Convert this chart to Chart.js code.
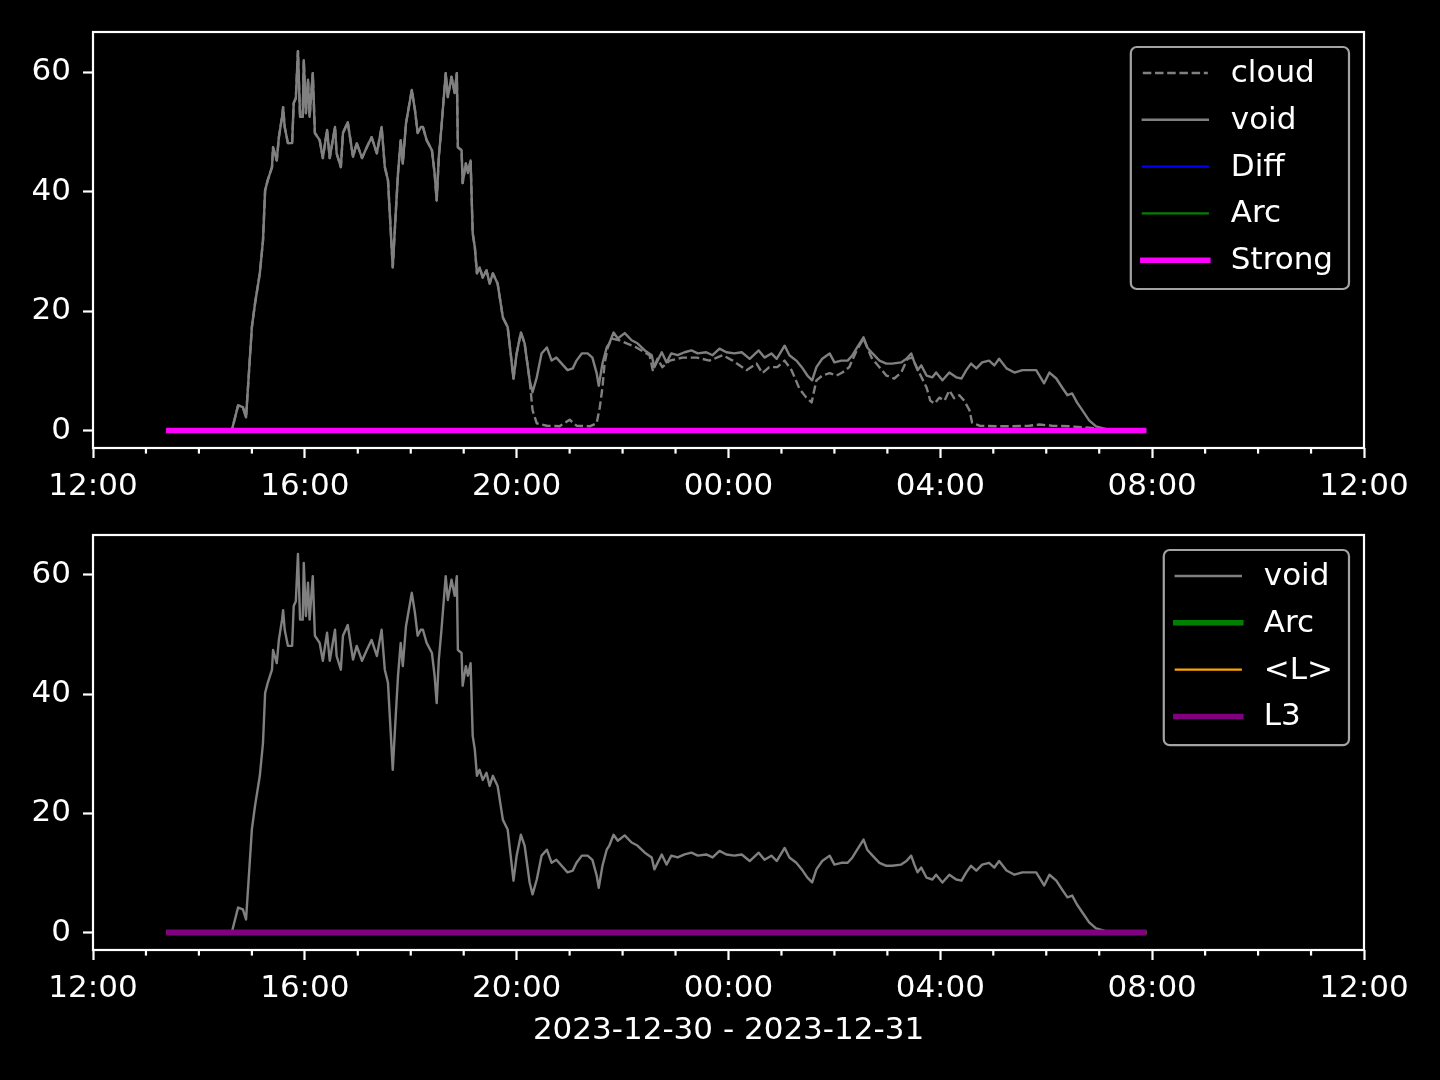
<!DOCTYPE html>
<html>
<head>
<meta charset="utf-8">
<script src="https://cdn.jsdelivr.net/npm/chart.js@4.4.0/dist/chart.umd.min.js"></script>
<style>
  html, body { margin: 0; padding: 0; background: #000; }
  #wrap { position: relative; width: 1440px; height: 1080px; background: #000; overflow: hidden; }
  canvas { position: absolute; left: 0; }
  #topChart { top: 0; }
  #bottomChart { top: 500px; }
</style>
</head>
<body>
<div id="wrap">
  <canvas id="topChart" width="1440" height="520"></canvas>
  <canvas id="bottomChart" width="1440" height="580"></canvas>
</div>
<script>
// hours counted from 2023-12-30 00:00 (24+ = next day)
const voidHours = [
  13.38, 14.62, 14.74, 14.83, 14.89, 15.00, 15.06, 15.15, 15.21, 15.25, 15.30, 15.38, 15.40, 15.47,
  15.51, 15.57, 15.59, 15.62, 15.68, 15.76, 15.79, 15.83, 15.87, 15.91, 15.96, 15.98, 16.02, 16.06,
  16.09, 16.15, 16.19, 16.28, 16.34, 16.42, 16.47, 16.57, 16.60, 16.68, 16.72, 16.81, 16.91, 16.98,
  17.08, 17.17, 17.26, 17.36, 17.45, 17.51, 17.57, 17.66, 17.72, 17.76, 17.81, 17.85, 17.91, 18.02,
  18.08, 18.13, 18.19, 18.23, 18.30, 18.40, 18.45, 18.49, 18.53, 18.58, 18.66, 18.70, 18.77, 18.83,
  18.87, 18.89, 18.96, 18.98, 19.04, 19.08, 19.13, 19.17, 19.21, 19.25, 19.30, 19.36, 19.43, 19.49,
  19.55, 19.64, 19.74, 19.83, 19.94, 20.00, 20.08, 20.15, 20.245, 20.30, 20.38, 20.47, 20.57, 20.66,
  20.75, 20.85, 20.96, 21.06, 21.13, 21.23, 21.34, 21.43, 21.51, 21.55, 21.62, 21.70, 21.75, 21.83,
  21.91, 22.04, 22.17, 22.28, 22.42, 22.55, 22.60, 22.74, 22.83, 22.92, 23.04, 23.17, 23.30, 23.42,
  23.58, 23.70, 23.83, 23.96, 24.11, 24.25, 24.40, 24.57, 24.68, 24.81, 24.91, 25.06, 25.15, 25.28,
  25.40, 25.49, 25.58, 25.66, 25.77, 25.91, 26.00, 26.13, 26.25, 26.34, 26.43, 26.55, 26.62, 26.72,
  26.85, 26.98, 27.09, 27.26, 27.36, 27.45, 27.51, 27.57, 27.64, 27.74, 27.85, 27.92, 28.04, 28.17,
  28.30, 28.40, 28.49, 28.58, 28.68, 28.79, 28.92, 29.02, 29.11, 29.25, 29.40, 29.55, 29.68, 29.81,
  29.96, 30.06, 30.19, 30.30, 30.40, 30.49, 30.58, 30.68, 30.81, 30.94, 31.06, 31.19, 31.89
];
const voidValues = [
  0, 0, 4.2, 3.9, 2.2, 17.3, 21.3, 26.3, 31.8, 40.2, 41.9, 44.1, 47.4, 45.2,
  49.1, 52.5, 54.1, 50.8, 48.1, 48.1, 54.8, 55.6, 63.5, 52.5, 52.5, 62.0, 53.1, 58.7,
  52.5, 59.8, 49.8, 48.6, 45.6, 50.3, 45.6, 50.8, 46.4, 44.1, 49.8, 51.6, 45.8, 48.1,
  45.6, 47.4, 49.1, 46.4, 50.8, 44.1, 41.9, 27.3, 36.9, 43.1, 48.6, 44.7, 51.4, 57.0,
  53.6, 49.8, 50.8, 50.8, 48.6, 46.9, 43.1, 38.5, 45.8, 50.8, 59.8, 55.8, 59.2, 56.5,
  59.8, 47.4, 46.9, 41.4, 44.7, 43.1, 45.2, 33.0, 30.7, 26.3, 27.3, 25.6, 26.8, 24.6,
  26.3, 24.6, 18.9, 17.3, 8.7, 12.9, 16.4, 14.6, 8.4, 6.4, 8.9, 12.9, 13.9, 11.7,
  12.2, 11.2, 10.1, 10.4, 11.7, 12.9, 12.9, 12.2, 9.6, 7.5, 11.2, 13.9, 14.6, 16.4,
  15.4, 16.3, 15.1, 14.6, 13.4, 12.6, 10.6, 13.1, 11.4, 12.9, 12.6, 13.1, 13.4, 12.9,
  13.1, 12.6, 13.7, 13.1, 12.9, 13.1, 12.0, 13.4, 12.2, 12.9, 12.0, 14.2, 12.6, 11.7,
  10.4, 9.2, 8.4, 10.6, 12.0, 12.9, 11.4, 11.7, 11.7, 12.6, 13.9, 15.6, 13.9, 12.9,
  11.7, 11.2, 11.2, 11.4, 12.0, 12.9, 11.4, 10.1, 10.9, 9.2, 8.9, 9.7, 8.4, 9.7,
  8.9, 8.7, 10.1, 11.2, 10.4, 11.4, 11.7, 10.9, 12.0, 10.4, 9.7, 10.1, 10.1, 10.1,
  7.9, 9.7, 8.7, 7.2, 5.9, 6.2, 4.7, 3.4, 1.7, 0.7, 0.4, 0, 0
];
// cloud runs under void until 20.245 h, then departs
const cloudSplitHour = 20.245;
const cloudTailHours = [
  20.30, 20.38, 20.57, 20.81, 21.00, 21.13, 21.38, 21.51, 21.57, 21.62, 21.66, 21.72, 21.79, 21.94,
  22.26, 22.51, 22.57, 22.66, 22.75, 22.89, 23.13, 23.40, 23.64, 23.89, 24.08, 24.34, 24.53, 24.64,
  24.77, 24.92, 25.06, 25.19, 25.34, 25.47, 25.57, 25.66, 25.77, 25.91, 26.04, 26.15, 26.28, 26.42,
  26.55, 26.70, 26.85, 26.98, 27.13, 27.26, 27.38, 27.47, 27.60, 27.74, 27.81, 27.89, 27.98, 28.08,
  28.17, 28.26, 28.36, 28.45, 28.55, 28.60, 28.74, 29.06, 29.36, 29.68, 29.87, 30.11, 30.43, 30.75,
  31.00, 31.89
];
const cloudTailValues = [
  3.4, 1.2, 0.8, 0.7, 1.8, 0.8, 0.7, 1.2, 3.9, 7.2, 11.2, 13.9, 15.4, 15.1,
  13.9, 12.6, 10.1, 12.0, 10.6, 11.7, 12.2, 12.2, 11.7, 12.6, 11.7, 10.1, 11.2, 9.6,
  10.6, 10.6, 11.7, 10.1, 7.0, 5.5, 4.7, 8.4, 9.2, 9.6, 9.2, 9.7, 10.6, 13.4,
  15.4, 12.2, 10.6, 9.2, 8.7, 9.7, 12.0, 12.2, 9.7, 7.2, 5.0, 4.5, 5.5, 5.0,
  6.7, 5.4, 5.9, 5.0, 3.4, 1.3, 0.8, 0.7, 0.7, 0.8, 1.0, 0.8, 0.7, 0.5,
  0.3, 0
];
const flatHours = [13.38, 31.89];
const flatValues = [0, 0];
const xTickHours = [12, 16, 20, 24, 28, 32, 36];
const yTickValues = [0, 20, 40, 60];
const dateLabel = '2023-12-30 - 2023-12-31';

const splitIdx = voidHours.indexOf(cloudSplitHour) + 1;
const cloudHours = voidHours.slice(0, splitIdx).concat(cloudTailHours);
const cloudValues = voidValues.slice(0, splitIdx).concat(cloudTailValues);

const FONT_PX = 31;
Chart.defaults.font.family = '"DejaVu Sans", sans-serif';
Chart.defaults.font.size = FONT_PX;
Chart.defaults.color = '#fff';

const pts = (hs, vs) => hs.map((h, i) => ({ x: h, y: vs[i] }));

function line(label, hs, vs, color, width, order, dash) {
  return {
    label, data: pts(hs, vs), borderColor: color, backgroundColor: color,
    borderWidth: width, borderDash: dash || [], order,
    pointRadius: 0, tension: 0, fill: false, borderJoinStyle: 'round'
  };
}

// spines + minor ticks
const frame = {
  id: 'frame',
  afterDatasetsDraw(chart) {
    const { ctx, chartArea: a, scales: { x } } = chart;
    ctx.save();
    ctx.strokeStyle = '#fff';
    ctx.lineWidth = 2.2;
    for (let h = Math.ceil(x.min); h <= x.max; h++) {
      if (h % 4 === 0) continue;
      const px = x.getPixelForValue(h);
      ctx.beginPath(); ctx.moveTo(px, a.bottom); ctx.lineTo(px, a.bottom + 5.6); ctx.stroke();
    }
    ctx.strokeRect(a.left, a.top, a.right - a.left, a.bottom - a.top);
    ctx.restore();
  }
};

// matplotlib-like legend box in upper right
const boxLegend = {
  id: 'boxLegend',
  afterDraw(chart) {
    const { ctx, chartArea: a } = chart;
    const sets = chart.data.datasets;
    ctx.save();
    ctx.font = FONT_PX + 'px "DejaVu Sans"';
    const tw = Math.max(...sets.map(d => ctx.measureText(d.label).width));
    const rowH = 46.8;
    const w = 11 + 66 + 23 + tw + 16;
    const h = sets.length * rowH + 8;
    const x0 = a.right - 15 - w, y0 = a.top + 15;
    ctx.beginPath();
    ctx.roundRect(x0, y0, w, h, 6);
    ctx.fillStyle = '#000';
    ctx.fill();
    ctx.strokeStyle = '#a3a3a3';
    ctx.lineWidth = 2.2;
    ctx.stroke();
    sets.forEach((d, i) => {
      const cy = y0 + 26 + i * rowH;
      const dashed = d.borderDash && d.borderDash.length;
      ctx.beginPath();
      ctx.setLineDash(dashed ? d.borderDash : []);
      ctx.lineCap = dashed ? 'butt' : 'square';
      ctx.strokeStyle = d.borderColor;
      ctx.lineWidth = d.borderWidth;
      ctx.moveTo(x0 + 12, cy); ctx.lineTo(x0 + 77, cy);
      ctx.stroke();
      ctx.setLineDash([]);
      ctx.fillStyle = '#fff';
      ctx.textBaseline = 'middle';
      ctx.fillText(d.label, x0 + 100, cy + 1);
    });
    ctx.restore();
  }
};

function scales(xHeight, withTitle) {
  const grid = { drawOnChartArea: false, drawTicks: true, tickLength: 10, tickWidth: 2.2, tickColor: '#fff' };
  return {
    x: {
      type: 'linear', min: 12, max: 36,
      afterBuildTicks: s => { s.ticks = xTickHours.map(v => ({ value: v })); },
      afterFit: s => { s.height = xHeight; },
      grid, border: { display: false },
      ticks: { color: '#fff', padding: 10, maxRotation: 0, autoSkip: false,
        callback: v => String(v % 24).padStart(2, '0') + ':00' },
      title: { display: withTitle, text: dateLabel, color: '#fff', padding: { top: 0, bottom: 10 } }
    },
    y: {
      type: 'linear', min: -2.93, max: 66.7,
      afterBuildTicks: s => { s.ticks = yTickValues.map(v => ({ value: v })); },
      afterFit: s => { s.width = 93; },
      grid, border: { display: false },
      ticks: { color: '#fff', padding: 12 }
    }
  };
}

function makeChart(id, datasets, pad, xHeight, withTitle) {
  return new Chart(document.getElementById(id), {
    type: 'line',
    data: { datasets },
    options: {
      responsive: false, animation: false, devicePixelRatio: 1,
      layout: { padding: pad },
      plugins: { legend: { display: false }, tooltip: { enabled: false } },
      scales: scales(xHeight, withTitle)
    },
    plugins: [frame, boxLegend]
  });
}

makeChart('topChart', [
  line('cloud', cloudHours, cloudValues, '#808080', 2.4, 4, [8.5, 3.7]),
  line('void', voidHours, voidValues, '#808080', 2.4, 3),
  line('Diff', flatHours, flatValues, '#0000ff', 2.2, 2),
  line('Arc', flatHours, flatValues, '#008000', 2.2, 1),
  line('Strong', flatHours, flatValues, '#ff00ff', 5.5, 0)
], { top: 32, right: 76, bottom: 12, left: 0 }, 60, false);

makeChart('bottomChart', [
  line('void', voidHours, voidValues, '#808080', 2.4, 3),
  line('Arc', flatHours, flatValues, '#008000', 5.5, 2),
  line('<L>', flatHours, flatValues, '#ffa500', 2.2, 1),
  line('L3', flatHours, flatValues, '#800080', 5.5, 0)
], { top: 35, right: 76, bottom: 20, left: 0 }, 110, true);
</script>
</body>
</html>
